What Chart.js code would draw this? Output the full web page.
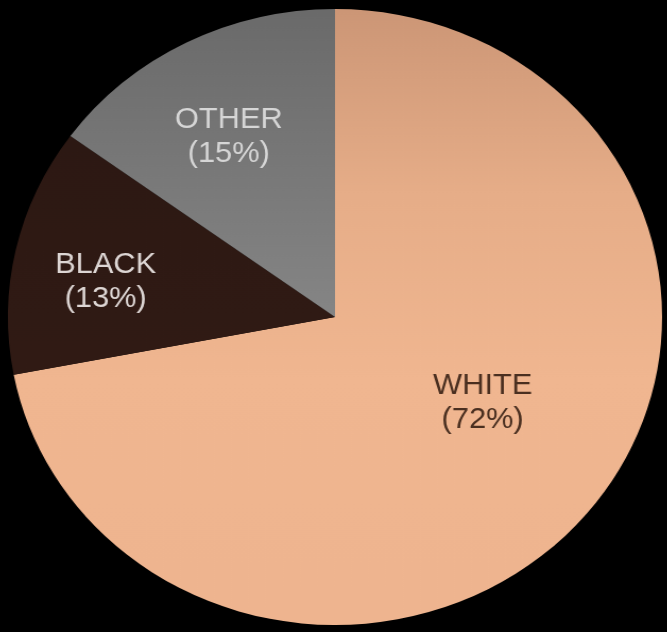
<!DOCTYPE html>
<html>
<head>
<meta charset="utf-8">
<script src="https://cdn.jsdelivr.net/npm/chart.js@4.4.0/dist/chart.umd.min.js"></script>
<style>
  html, body { margin: 0; padding: 0; background: #000; overflow: hidden; }
  #wrap { width: 667px; height: 632px; }
  /* the source picture is a little wider than tall */
  #raceChart { transform: scaleX(1.062); transform-origin: 335px 0; }
</style>
</head>
<body>
<div id="wrap"><canvas id="raceChart" width="667" height="632"></canvas></div>
<script>
const categories = ['WHITE', 'BLACK', 'OTHER'];
const shares = [72, 13, 15];
const labelColors = ['#4a2f20', '#ddd6d4', '#d6d6d6'];
// where each label sits inside its slice (fraction of radius, angle nudge in degrees)
const labelRadius = [0.53, 0.71, 0.67];
const labelNudge = [-8, -3.5, -2];

function sliceFill(ctx) {
  const chart = ctx.chart;
  const area = chart.chartArea;
  if (!area) return '#888';
  const c = chart.ctx;
  const g = c.createLinearGradient(0, area.top, 0, area.bottom);
  if (ctx.dataIndex === 0) {
    g.addColorStop(0, '#cc9676');
    g.addColorStop(0.3, '#e6ad88');
    g.addColorStop(0.6, '#f0b690');
    g.addColorStop(1, '#eeb48f');
  } else if (ctx.dataIndex === 1) {
    g.addColorStop(0, '#2a1712');
    g.addColorStop(1, '#351d16');
  } else {
    g.addColorStop(0, '#6a6a6a');
    g.addColorStop(0.5, '#858585');
    g.addColorStop(1, '#8c8c8c');
  }
  return g;
}

const sliceLabels = {
  id: 'sliceLabels',
  afterDatasetsDraw(chart) {
    const ctx = chart.ctx;
    const meta = chart.getDatasetMeta(0);
    ctx.save();
    ctx.font = '29px "Liberation Sans", Arial, sans-serif';
    ctx.textAlign = 'center';
    ctx.textBaseline = 'middle';
    meta.data.forEach(function(arc, i) {
      const p = arc.getProps(['x', 'y', 'startAngle', 'endAngle', 'outerRadius'], true);
      const a = (p.startAngle + p.endAngle) / 2 + labelNudge[i] * Math.PI / 180;
      const r = p.outerRadius * labelRadius[i];
      const x = p.x + Math.cos(a) * r;
      const y = p.y + Math.sin(a) * r;
      ctx.fillStyle = labelColors[i];
      ctx.fillText(categories[i], x, y - 17);
      ctx.fillText('(' + shares[i] + '%)', x, y + 17);
    });
    ctx.restore();
  }
};

new Chart(document.getElementById('raceChart'), {
  type: 'pie',
  data: {
    labels: categories,
    datasets: [{
      data: shares,
      backgroundColor: sliceFill,
      borderWidth: 0
    }]
  },
  options: {
    responsive: false,
    devicePixelRatio: 1,
    animation: false,
    layout: { padding: { top: 9, bottom: 7, left: 27, right: 24 } },
    plugins: {
      legend: { display: false },
      tooltip: { enabled: false }
    }
  },
  plugins: [sliceLabels]
});
</script>
</body>
</html>
